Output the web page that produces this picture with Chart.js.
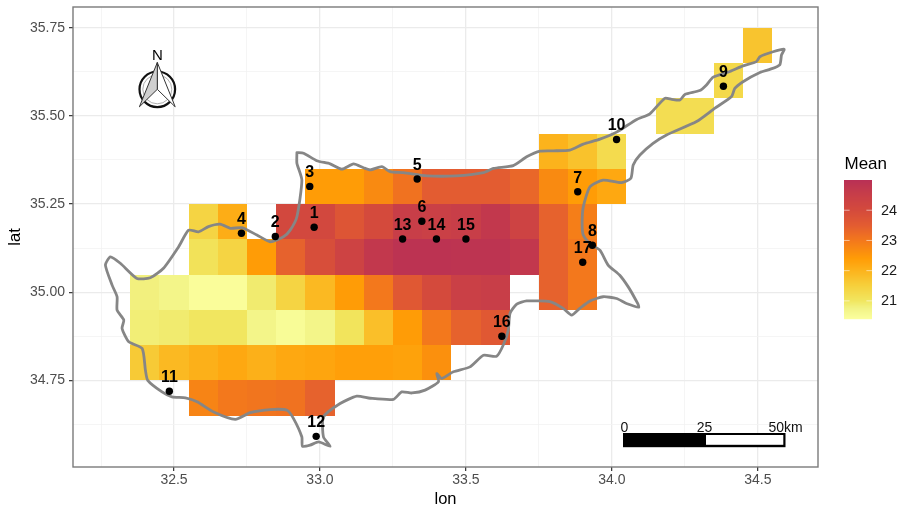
<!DOCTYPE html>
<html lang="en">
<head>
    <meta charset="UTF-8" />
    <title>Mean map</title>
    <script src="https://cdn.jsdelivr.net/npm/chart.js"></script>
    <style>
        html, body { margin: 0; padding: 0; background: #fff; }
        canvas { display: block; }
    </style>
</head>
<body>
    <canvas id="mapChart" width="899" height="507"></canvas>
    <script>
        // grid cell centres and mean values, one list per latitude row
        const rowLats = [35.7, 35.6, 35.5, 35.4, 35.3, 35.2, 35.1, 35.0, 34.9, 34.8, 34.7];
        const rowLons = [
            [34.5],
            [34.4],
            [34.2, 34.3],
            [33.8, 33.9, 34.0],
            [33.0, 33.1, 33.2, 33.3, 33.4, 33.5, 33.6, 33.7, 33.8, 33.9, 34.0],
            [32.6, 32.7, 32.9, 33.0, 33.1, 33.2, 33.3, 33.4, 33.5, 33.6, 33.7, 33.8, 33.9],
            [32.6, 32.7, 32.8, 32.9, 33.0, 33.1, 33.2, 33.3, 33.4, 33.5, 33.6, 33.7, 33.8, 33.9],
            [32.4, 32.5, 32.6, 32.7, 32.8, 32.9, 33.0, 33.1, 33.2, 33.3, 33.4, 33.5, 33.6, 33.8, 33.9],
            [32.4, 32.5, 32.6, 32.7, 32.8, 32.9, 33.0, 33.1, 33.2, 33.3, 33.4, 33.5, 33.6],
            [32.4, 32.5, 32.6, 32.7, 32.8, 32.9, 33.0, 33.1, 33.2, 33.3, 33.4],
            [32.6, 32.7, 32.8, 32.9, 33.0]
        ];
        const rowMeans = [
            [21.7],
            [21.3],
            [21.2, 21.2],
            [22.0, 21.75, 21.25],
            [22.4, 22.4, 22.7, 23.1, 23.5, 23.5, 23.5, 23.3, 22.7, 22.4, 22.2],
            [21.4, 22.1, 24.1, 24.1, 23.7, 24.0, 24.5, 24.4, 24.5, 24.7, 24.3, 23.4, 22.9],
            [21.1, 21.4, 22.4, 23.4, 23.9, 24.3, 24.7, 24.9, 24.9, 24.85, 24.85, 24.7, 23.4, 23.0],
            [20.8, 20.7, 20.45, 20.45, 20.9, 21.4, 21.9, 22.4, 23.0, 23.6, 24.0, 24.4, 24.5, 23.4, 23.0],
            [20.85, 20.9, 21.0, 21.0, 20.7, 20.5, 20.7, 21.05, 21.8, 22.4, 23.0, 23.4, 23.6],
            [21.6, 21.9, 22.05, 22.2, 22.05, 22.2, 22.25, 22.35, 22.35, 22.3, 22.6],
            [22.8, 23.0, 23.05, 23.1, 23.4]
        ];

        // numbered stations
        const stationIds = ['1', '2', '3', '4', '5', '6', '7', '8', '9', '10', '11', '12', '13', '14', '15', '16', '17'];
        const stationLons = [32.980, 32.847, 32.965, 32.731, 33.333, 33.349, 33.883, 33.933, 34.382, 34.016, 32.484, 32.987, 33.283, 33.399, 33.500, 33.623, 33.900];
        const stationLats = [35.184, 35.158, 35.300, 35.167, 35.321, 35.201, 35.285, 35.133, 35.584, 35.433, 34.719, 34.591, 35.151, 35.151, 35.151, 34.875, 35.085];

        // coastline outline
        const coastLons = [32.921, 32.944, 32.989, 33.035, 33.075, 33.115, 33.149, 33.172, 33.212, 33.240, 33.286, 33.366, 33.468, 33.560, 33.594, 33.662, 33.708, 33.754, 33.799, 33.856, 33.902, 33.959, 34.016, 34.085, 34.130, 34.181, 34.205, 34.233, 34.250, 34.301, 34.324, 34.347, 34.404, 34.449, 34.495, 34.507, 34.552, 34.590, 34.581, 34.575, 34.541, 34.507, 34.449, 34.421, 34.410, 34.353, 34.290, 34.187, 34.141, 34.096, 34.073, 34.065, 34.033, 33.970, 33.925, 33.902, 33.898, 33.902, 33.925, 33.959, 33.987, 34.027, 34.056, 34.079, 34.093, 34.050, 34.016, 33.970, 33.925, 33.890, 33.862, 33.833, 33.788, 33.708, 33.674, 33.651, 33.645, 33.628, 33.605, 33.560, 33.514, 33.457, 33.417, 33.400, 33.406, 33.360, 33.315, 33.280, 33.252, 33.172, 33.126, 33.069, 33.012, 33.012, 33.035, 32.995, 32.966, 32.940, 32.938, 32.909, 32.887, 32.830, 32.761, 32.710, 32.636, 32.579, 32.539, 32.493, 32.459, 32.410, 32.402, 32.391, 32.345, 32.322, 32.328, 32.305, 32.305, 32.288, 32.265, 32.282, 32.316, 32.373, 32.419, 32.464, 32.516, 32.550, 32.584, 32.618, 32.658, 32.693, 32.733, 32.784, 32.830, 32.875, 32.898, 32.921, 32.938, 32.921, 32.921];
        const coastLats = [35.396, 35.394, 35.373, 35.364, 35.349, 35.364, 35.353, 35.347, 35.356, 35.342, 35.339, 35.330, 35.330, 35.339, 35.351, 35.359, 35.384, 35.400, 35.401, 35.403, 35.420, 35.434, 35.454, 35.490, 35.506, 35.550, 35.547, 35.545, 35.561, 35.572, 35.588, 35.610, 35.626, 35.642, 35.654, 35.668, 35.682, 35.689, 35.673, 35.645, 35.632, 35.623, 35.597, 35.578, 35.555, 35.522, 35.484, 35.446, 35.422, 35.389, 35.361, 35.323, 35.311, 35.318, 35.299, 35.242, 35.195, 35.162, 35.138, 35.119, 35.077, 35.048, 35.015, 34.982, 34.958, 34.968, 34.982, 34.987, 34.975, 34.954, 34.935, 34.954, 34.973, 34.975, 34.966, 34.940, 34.892, 34.850, 34.818, 34.821, 34.788, 34.774, 34.755, 34.769, 34.746, 34.722, 34.714, 34.717, 34.696, 34.699, 34.705, 34.684, 34.646, 34.589, 34.563, 34.575, 34.566, 34.563, 34.589, 34.642, 34.665, 34.667, 34.658, 34.639, 34.660, 34.689, 34.700, 34.703, 34.717, 34.750, 34.779, 34.840, 34.859, 34.897, 34.921, 34.949, 34.987, 35.020, 35.077, 35.100, 35.082, 35.039, 35.041, 35.068, 35.129, 35.176, 35.171, 35.186, 35.193, 35.181, 35.183, 35.162, 35.143, 35.157, 35.176, 35.214, 35.318, 35.366, 35.396];

        // axis ticks
        const lonMajor = [32.5, 33.0, 33.5, 34.0, 34.5];
        const lonMinor = [32.25, 32.75, 33.25, 33.75, 34.25];
        const latMajor = [34.75, 35.0, 35.25, 35.5, 35.75];
        const latMinor = [34.625, 34.875, 35.125, 35.375, 35.625];

        // colour scale
        const legendTicks = [21, 22, 23, 24];
        const legendMin = 20.4;
        const legendMax = 25.0;
        const colourValues = [20.4, 20.75, 21.0, 21.5, 22.0, 22.4, 23.0, 23.5, 24.0, 24.5, 25.0];
        const colourStops = ['#fbff9e', '#f2f385', '#f1e660', '#f6d03c', '#fcb31c', '#ff9c06', '#f3781c', '#e35c31', '#d44a3c', '#c83e48', '#b93055'];
        const cellSize = 0.1;

        function hexToRgb(hex) {
            return [1, 3, 5].map(i => parseInt(hex.slice(i, i + 2), 16));
        }

        function colourFor(value) {
            const v = Math.min(legendMax, Math.max(legendMin, value));
            let i = 0;
            while (i < colourValues.length - 2 && v > colourValues[i + 1]) i++;
            const t = (v - colourValues[i]) / (colourValues[i + 1] - colourValues[i]);
            const a = hexToRgb(colourStops[i]);
            const b = hexToRgb(colourStops[i + 1]);
            const c = a.map((n, k) => Math.round(n + (b[k] - n) * t));
            return `rgb(${c[0]}, ${c[1]}, ${c[2]})`;
        }

        const cellData = [];
        rowLats.forEach((lat, r) => {
            rowLons[r].forEach((lon, c) => cellData.push({ x: lon, y: lat, v: rowMeans[r][c] }));
        });
        const stationData = stationLons.map((lon, i) => ({ x: lon, y: stationLats[i] }));
        const coastData = coastLons.map((lon, i) => ({ x: lon, y: coastLats[i] }));

        const FONT = '"Liberation Sans", Arial, sans-serif';

        function drawNorthArrow(ctx) {
            const cx = 157.3, cy = 89.3;
            ctx.save();
            ctx.lineJoin = 'miter';
            ctx.beginPath();
            ctx.arc(cx, cy, 17.8, 0, Math.PI * 2);
            ctx.lineWidth = 2.2;
            ctx.strokeStyle = '#111';
            ctx.stroke();
            ctx.beginPath();
            ctx.arc(cx, cy, 14.5, 0, Math.PI * 2);
            ctx.lineWidth = 0.8;
            ctx.strokeStyle = '#999';
            ctx.stroke();
            ctx.lineWidth = 1;
            ctx.strokeStyle = '#333';
            ctx.beginPath();
            ctx.moveTo(cx, 62.5);
            ctx.lineTo(175.2, 106.8);
            ctx.lineTo(cx, cy);
            ctx.closePath();
            ctx.fillStyle = '#fff';
            ctx.fill();
            ctx.stroke();
            ctx.beginPath();
            ctx.moveTo(cx, 62.5);
            ctx.lineTo(139.4, 106.8);
            ctx.lineTo(cx, cy);
            ctx.closePath();
            ctx.fillStyle = '#cfcfcf';
            ctx.fill();
            ctx.stroke();
            ctx.fillStyle = '#000';
            ctx.font = '15px ' + FONT;
            ctx.textAlign = 'center';
            ctx.textBaseline = 'middle';
            ctx.fillText('N', cx, 56);
            ctx.restore();
        }

        function drawScaleBar(ctx) {
            ctx.save();
            ctx.fillStyle = '#000';
            ctx.fillRect(623, 433, 162.5, 14.2);
            ctx.fillStyle = '#fff';
            ctx.fillRect(706, 435, 77.3, 9.8);
            ctx.fillStyle = '#111';
            ctx.font = '14px ' + FONT;
            ctx.textAlign = 'center';
            ctx.textBaseline = 'alphabetic';
            ctx.fillText('0', 624.5, 431.5);
            ctx.fillText('25', 704.5, 431.5);
            ctx.fillText('50km', 785.5, 431.5);
            ctx.restore();
        }

        function drawColourBar(ctx) {
            const left = 844, right = 872, top = 180, bottom = 319;
            const toY = v => bottom - (v - legendMin) / (legendMax - legendMin) * (bottom - top);
            ctx.save();
            const steps = bottom - top;
            for (let i = 0; i < steps; i++) {
                const v = legendMax - (i + 0.5) / steps * (legendMax - legendMin);
                ctx.fillStyle = colourFor(v);
                ctx.fillRect(left, top + i, right - left, 1.2);
            }
            ctx.font = '14.5px ' + FONT;
            ctx.textAlign = 'left';
            ctx.textBaseline = 'middle';
            legendTicks.forEach(t => {
                const y = toY(t);
                ctx.fillStyle = 'rgba(255, 255, 255, 0.55)';
                ctx.fillRect(left, y - 0.5, 5.6, 1);
                ctx.fillRect(right - 5.6, y - 0.5, 5.6, 1);
                ctx.fillStyle = '#1a1a1a';
                ctx.fillText(String(t), 881, y + 0.5);
            });
            ctx.font = '17px ' + FONT;
            ctx.fillStyle = '#000';
            ctx.fillText('Mean', 844.5, 164);
            ctx.restore();
        }

        const mapPlugin = {
            id: 'mapPlugin',
            beforeDatasetsDraw(chart) {
                const { ctx, scales: { x, y }, chartArea } = chart;
                ctx.save();
                ctx.beginPath();
                ctx.rect(chartArea.left, chartArea.top, chartArea.width, chartArea.height);
                ctx.clip();
                cellData.forEach(cell => {
                    // snap to whole pixels so neighbouring cells do not show seams
                    const x0 = Math.round(x.getPixelForValue(cell.x - cellSize / 2));
                    const x1 = Math.round(x.getPixelForValue(cell.x + cellSize / 2));
                    const y0 = Math.round(y.getPixelForValue(cell.y + cellSize / 2));
                    const y1 = Math.round(y.getPixelForValue(cell.y - cellSize / 2));
                    ctx.fillStyle = colourFor(cell.v);
                    ctx.fillRect(x0, y0, x1 - x0, y1 - y0);
                });
                ctx.restore();
            },
            afterDatasetsDraw(chart) {
                const { ctx, scales: { x, y }, chartArea } = chart;
                ctx.save();
                ctx.fillStyle = '#000';
                ctx.font = 'bold 16px ' + FONT;
                ctx.textAlign = 'center';
                ctx.textBaseline = 'middle';
                stationIds.forEach((id, i) => {
                    ctx.fillText(id, x.getPixelForValue(stationLons[i]), y.getPixelForValue(stationLats[i]) - 13.5);
                });
                ctx.strokeStyle = '#7b7b7b';
                ctx.lineWidth = 1.4;
                ctx.strokeRect(chartArea.left, chartArea.top, chartArea.width, chartArea.height);
                ctx.restore();
                drawNorthArrow(ctx);
                drawScaleBar(ctx);
                drawColourBar(ctx);
            }
        };

        function makeAxis(major, minor, min, max, digits, title, tickPad, titlePad) {
            return {
                type: 'linear',
                min: min,
                max: max,
                afterBuildTicks(scale) {
                    scale.ticks = major.concat(minor).sort((a, b) => a - b).map(v => ({ value: v }));
                },
                grid: {
                    color: ctx => ctx.tick && major.includes(ctx.tick.value) ? '#ebebeb' : '#f2f2f2',
                    lineWidth: ctx => ctx.tick && major.includes(ctx.tick.value) ? 1.3 : 0.8,
                    tickColor: ctx => ctx.tick && major.includes(ctx.tick.value) ? '#333333' : 'rgba(0, 0, 0, 0)',
                    tickLength: 4,
                    tickWidth: 1.2
                },
                border: { display: false },
                ticks: {
                    autoSkip: false,
                    maxRotation: 0,
                    padding: tickPad,
                    color: '#4d4d4d',
                    font: { family: FONT, size: 14 },
                    callback: v => major.includes(v) ? v.toFixed(digits) : ''
                },
                title: {
                    display: true,
                    text: title,
                    color: '#000',
                    font: { family: FONT, size: 16.5 },
                    padding: titlePad
                }
            };
        }

        const xAxis = makeAxis(lonMajor, lonMinor, 32.154, 34.706, 1, 'lon', 1, { top: 2, bottom: -2 });
        xAxis.afterFit = scale => {
            scale.height = 40;
            scale.paddingLeft = 0;
            scale.paddingRight = 0;
        };
        const yAxis = makeAxis(latMajor, latMinor, 34.504, 35.809, 2, 'lat', 4, { top: 6, bottom: 0 });
        yAxis.afterFit = scale => {
            scale.width = 73;
            scale.paddingTop = 0;
            scale.paddingBottom = 0;
        };

        new Chart(document.getElementById('mapChart').getContext('2d'), {
            type: 'scatter',
            data: {
                datasets: [
                    {
                        label: 'Stations',
                        data: stationData,
                        order: 1,
                        pointRadius: 3.7,
                        pointBackgroundColor: '#000',
                        pointBorderWidth: 0
                    },
                    {
                        label: 'Coast',
                        data: coastData,
                        order: 2,
                        showLine: true,
                        pointRadius: 0,
                        borderColor: '#868686',
                        borderWidth: 2.8,
                        borderJoinStyle: 'round',
                        borderCapStyle: 'round',
                        tension: 0.2
                    }
                ]
            },
            options: {
                responsive: false,
                animation: false,
                devicePixelRatio: 1,
                layout: { padding: { left: 0, right: 81, top: 7, bottom: 0 } },
                plugins: { legend: { display: false }, tooltip: { enabled: false } },
                scales: { x: xAxis, y: yAxis }
            },
            plugins: [mapPlugin]
        });
    </script>
</body>
</html>
